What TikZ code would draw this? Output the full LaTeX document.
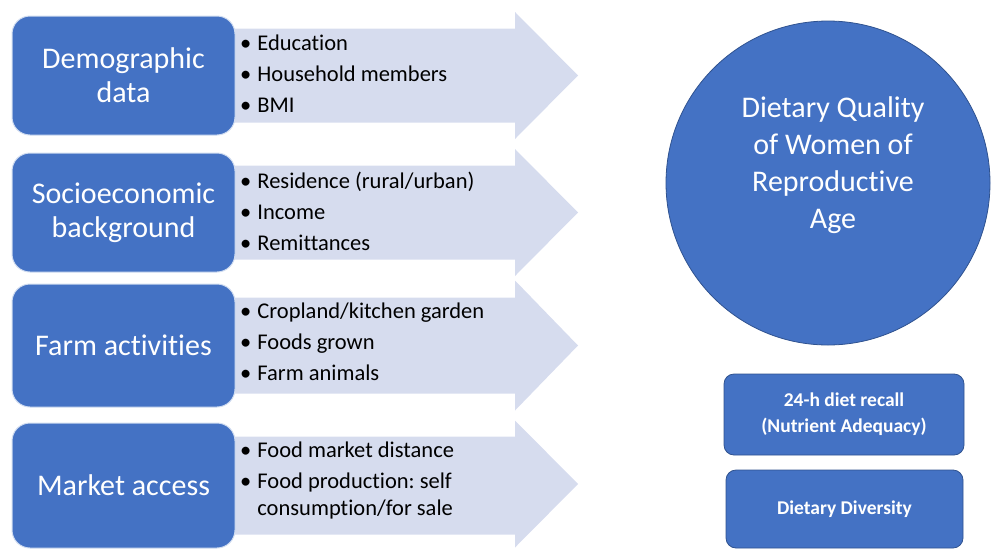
\documentclass[tikz,border=0pt]{standalone}
\usepackage{fontspec}
\setmainfont{Carlito}[Ligatures=NoCommon]
\frenchspacing
\definecolor{boxblue}{RGB}{68,114,196}
\definecolor{edgeblue}{RGB}{47,82,143}
\definecolor{arrowgray}{RGB}{214,220,238}

\begin{document}
\begin{tikzpicture}[x=1pt, y=-1pt,
        factorbox/.style={rectangle, rounded corners=18pt, fill=boxblue, draw=white!75!boxblue, line width=1pt,
            minimum width=223pt, minimum height=120pt, inner sep=0pt, text=white, align=center,
            font=\fontsize{30}{34}\selectfont},
        itemlist/.style={anchor=west, align=left, inner sep=0pt, text=black,
            font=\fontsize{22.5}{31}\selectfont},
        flowarrow/.style={fill=arrowgray, draw=none},
        outcomebox/.style={rectangle, rounded corners=10pt, fill=boxblue, draw=edgeblue, line width=0.8pt,
            minimum width=240pt, inner sep=0pt, text=white, align=center,
            font=\bfseries\fontsize{19.5}{26}\selectfont}]

        \useasboundingbox (0,0) rectangle (992,549);

        % Demographic data
        \begin{scope}[shift={(0,75.5)}]
            % Pfeil
            \path[flowarrow] (225,-47) -- (515,-47) -- (515,-63.5) -- (578,0) -- (515,63.5) -- (515,47) -- (225,47) -- cycle;
            % Kasten
            \node[factorbox, minimum height=119pt] (demo) at (123.5,0) {Demographic\\data};
            \node[itemlist] (demolist) at (240,-1.5) {\textbullet\hspace{6pt}Education\\
                \textbullet\hspace{6pt}Household members\\
                \textbullet\hspace{6pt}BMI};
        \end{scope}

        % Socioeconomic background
        \begin{scope}[shift={(0,212.5)}]
            % Pfeil
            \path[flowarrow] (225,-47) -- (515,-47) -- (515,-63.5) -- (578,0) -- (515,63.5) -- (515,47) -- (225,47) -- cycle;
            % Kasten
            \node[factorbox, minimum height=119pt] (socio) at (123.5,0) {Socioeconomic\\background};
            \node[itemlist] (sociolist) at (240,-1.5) {\textbullet\hspace{6pt}Residence (rural/urban)\\
                \textbullet\hspace{6pt}Income\\
                \textbullet\hspace{6pt}Remittances};
        \end{scope}

        % Farm activities
        \begin{scope}[shift={(0,345.5)}]
            % Pfeil
            \path[flowarrow] (225,-48) -- (515,-48) -- (515,-65) -- (578,0) -- (515,65) -- (515,48) -- (225,48) -- cycle;
            % Kasten
            \node[factorbox, minimum height=123pt] (farm) at (123.5,0) {Farm activities};
            \node[itemlist] (farmlist) at (240,-3.5) {\textbullet\hspace{6pt}Cropland/kitchen garden\\
                \textbullet\hspace{6pt}Foods grown\\
                \textbullet\hspace{6pt}Farm animals};
        \end{scope}

        % Market access
        \begin{scope}[shift={(0,485.5)}]
            % Pfeil
            \path[flowarrow] (225,-49) -- (515,-49) -- (515,-65) -- (578,-1.5) -- (515,62) -- (515,49) -- (225,49) -- cycle;
            % Kasten
            \node[factorbox, minimum height=125pt] (market) at (123.5,0) {Market access};
            \node[itemlist] (marketlist) at (240,-5) {\textbullet\hspace{6pt}Food market distance\\
                \textbullet\hspace{6pt}Food production: self\\[-4pt]
                \hphantom{\textbullet\hspace{6pt}}consumption/for sale};
        \end{scope}

        % Dietary Quality
        \node[circle, fill=boxblue, draw=edgeblue, line width=0.8pt, minimum size=324pt, inner sep=0pt] (quality) at (828,183) {};
        \node[text=white, align=center, font=\fontsize{30}{37}\selectfont] (qualitytext)
            at ([xshift=5pt, yshift=18pt]quality.center) {Dietary Quality\\of Women of\\Reproductive\\Age};

        % Messmethoden
        \node[outcomebox, minimum height=81pt] (recall) at (844,414.5) {24-h diet recall\\(Nutrient Adequacy)};
        \node[outcomebox, minimum height=78pt, minimum width=237pt] (diversity) at (844.5,509) {Dietary Diversity};

    \end{tikzpicture}
\end{document}
